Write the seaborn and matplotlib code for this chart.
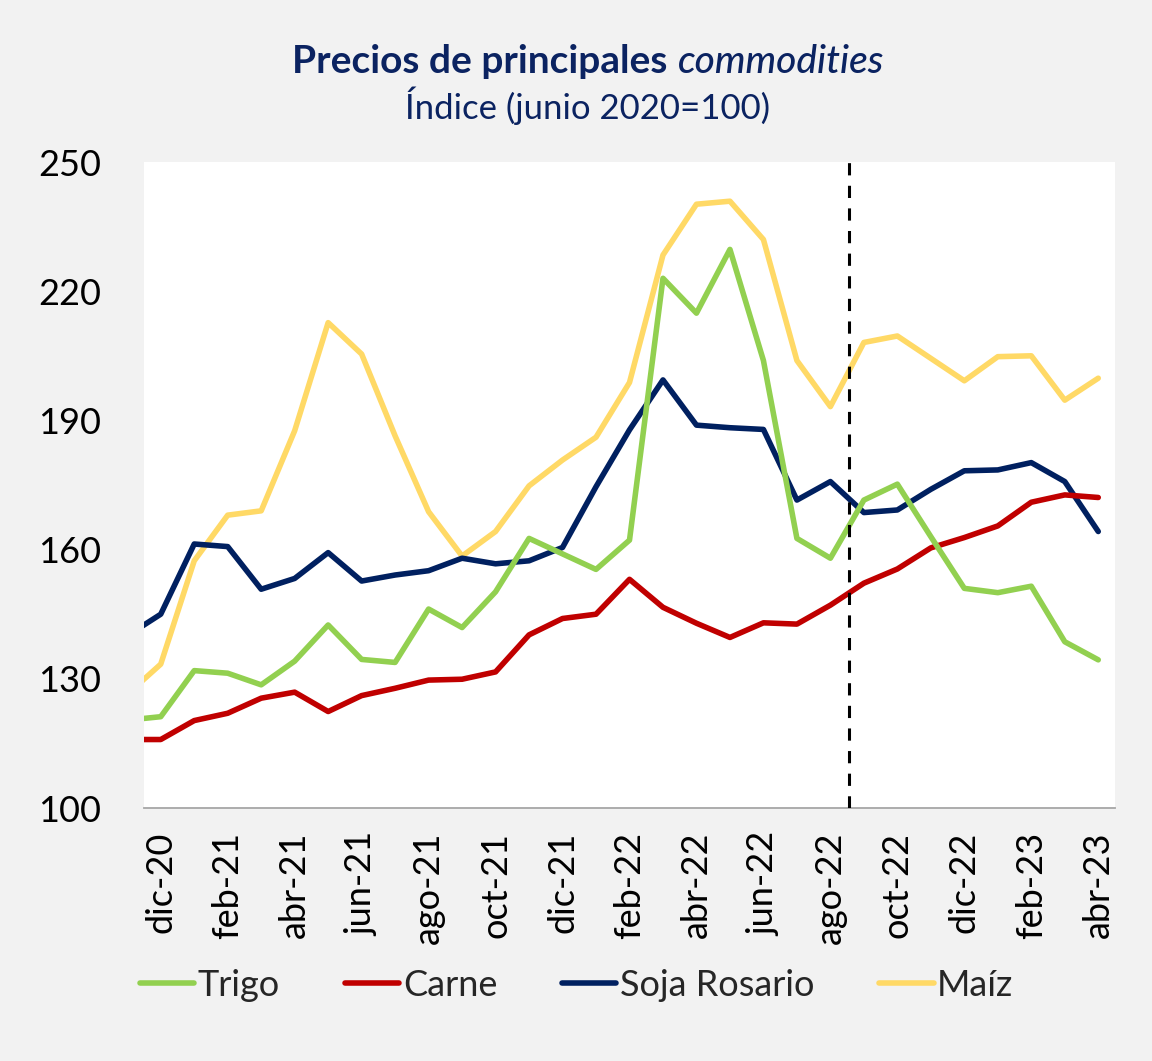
import numpy as np
import pandas as pd
import matplotlib
matplotlib.use('Agg')
import matplotlib.pyplot as plt
import seaborn as sns

# meses (nov-20 queda fuera del eje, sólo se ve el tramo inicial)
meses = ['nov-20', 'dic-20', 'ene-21', 'feb-21', 'mar-21', 'abr-21', 'may-21', 'jun-21',
         'jul-21', 'ago-21', 'sep-21', 'oct-21', 'nov-21', 'dic-21', 'ene-22', 'feb-22',
         'mar-22', 'abr-22', 'may-22', 'jun-22', 'jul-22', 'ago-22', 'sep-22', 'oct-22',
         'nov-22', 'dic-22', 'ene-23', 'feb-23', 'mar-23', 'abr-23']

trigo = [120.4, 121.2, 131.9, 131.3, 128.6, 134.1, 142.5, 134.5, 133.8, 146.2,
         141.9, 150.2, 162.6, 159.0, 155.4, 162.2, 223.0, 214.9, 229.7, 203.9,
         162.6, 158.0, 171.5, 175.2, 163.0, 151.0, 150.0, 151.5, 138.6, 134.4]
carne = [115.9, 115.9, 120.3, 122.0, 125.5, 126.9, 122.4, 126.1, 127.8, 129.7,
         129.9, 131.6, 140.2, 144.0, 145.0, 153.1, 146.6, 142.9, 139.6, 143.0,
         142.7, 147.1, 152.2, 155.5, 160.4, 162.8, 165.5, 171.0, 172.7, 172.1]
soja = [140.0, 145.0, 161.3, 160.7, 150.8, 153.3, 159.3, 152.7, 154.1, 155.1,
        158.0, 156.7, 157.4, 160.5, 174.6, 187.8, 199.4, 188.9, 188.3, 187.9,
        171.5, 175.8, 168.6, 169.2, 174.0, 178.3, 178.5, 180.2, 175.8, 164.2]
maiz = [126.4, 133.4, 157.4, 168.0, 169.0, 187.6, 212.7, 205.4, 186.4, 168.8,
        158.5, 164.2, 174.8, 180.8, 186.1, 198.8, 228.4, 240.2, 240.9, 232.0,
        203.9, 193.2, 208.1, 209.6, 204.4, 199.2, 204.8, 205.0, 194.7, 199.8]

series = ['Trigo', 'Carne', 'Soja Rosario', 'Maíz']
colores = {'Trigo': '#92D050', 'Carne': '#C00000', 'Soja Rosario': '#002060', 'Maíz': '#FFD966'}
corte = 'ago-22'   # línea punteada entre ago-22 y sep-22

yticks = [100, 130, 160, 190, 220, 250]
azul = '#0B2361'

sns.set_theme(style='white')
plt.rcParams['font.family'] = ['Lato', 'DejaVu Sans']

pos = np.arange(len(meses)) - 1  # dic-20 = 0
df = pd.DataFrame({'pos': pos, 'Trigo': trigo, 'Carne': carne,
                   'Soja Rosario': soja, 'Maíz': maiz})
largo = df.melt(id_vars='pos', var_name='serie', value_name='valor')

fig = plt.figure(figsize=(11.52, 10.61), dpi=100, facecolor='#F2F2F2')
ax = fig.add_axes([144 / 1152, 1 - 808 / 1061, (1115 - 144) / 1152, (808 - 162) / 1061])
ax.set_facecolor('white')

# dibujar de abajo hacia arriba: Maíz, Soja, Carne, Trigo
sns.lineplot(data=largo, x='pos', y='valor', hue='serie', hue_order=series[::-1],
             palette=colores, linewidth=4.0, legend=False, ax=ax,
             solid_capstyle='round', solid_joinstyle='round')

i_corte = meses.index(corte) - 1
ax.axvline(i_corte + 0.57, color='black', lw=2.2, dashes=(4, 3.4), zorder=5)

ax.set_xlim(-0.5, 28.5)
ax.set_ylim(100, 250)
ax.set_yticks(yticks)
ax.set_yticklabels([str(v) for v in yticks])

labels_pos = list(range(0, 29, 2))
ax.set_xticks(labels_pos)
ax.set_xticklabels([meses[p + 1] for p in labels_pos], rotation=90)
ax.set_xticks(np.arange(-0.5, 28, 2), minor=True)
ax.tick_params(axis='x', which='major', length=0, pad=17, labelsize=26, colors='black')
ax.tick_params(axis='x', which='minor', length=7, width=1.2, color='#A6A6A6', direction='out')
ax.tick_params(axis='y', length=0, pad=31, labelsize=26, colors='black')
ax.set_xlabel('')
ax.set_ylabel('')
ax.grid(False)
for s in ['top', 'right', 'left']:
    ax.spines[s].set_visible(False)
ax.spines['bottom'].set_color('#A6A6A6')
ax.spines['bottom'].set_linewidth(1.3)

# leyenda en el orden original
handles = [plt.Line2D([], [], color=colores[s], lw=4.0, solid_capstyle='round') for s in series]
fig.legend(handles, series, loc='center left', bbox_to_anchor=(140 / 1152, 1 - 985 / 1061),
           ncol=4, frameon=False, fontsize=26, handlelength=1.5, handletextpad=0.1,
           columnspacing=1.8, borderpad=0, borderaxespad=0)

# título en dos partes (negrita + cursiva)
y_tit = 1 - 73 / 1061
t1 = fig.text(0.5, y_tit, 'Precios de principales', ha='left', va='baseline',
              fontsize=28, weight='bold', color=azul)
t2 = fig.text(0.5, y_tit, 'commodities', ha='left', va='baseline',
              fontsize=28, style='italic', weight='medium', color=azul)
fig.canvas.draw()
r = fig.canvas.get_renderer()
w1 = t1.get_window_extent(r).width
w2 = t2.get_window_extent(r).width
hueco = 11
x0 = 588 - (w1 + hueco + w2) / 2
t1.set_x(x0 / 1152)
t2.set_x((x0 + w1 + hueco) / 1152)

fig.text(588 / 1152, 1 - 106 / 1061, 'Índice (junio 2020=100)', ha='center', va='center',
         fontsize=25, color=azul)

fig.savefig('out.png', dpi=100, facecolor=fig.get_facecolor())
